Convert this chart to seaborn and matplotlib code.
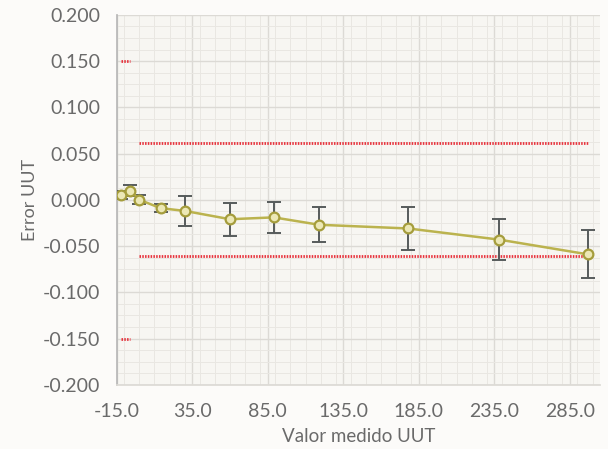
import numpy as np
import pandas as pd
import matplotlib
matplotlib.use("Agg")
import matplotlib.pyplot as plt
from matplotlib.ticker import MultipleLocator, FormatStrFormatter
import seaborn as sns

# ==========================
# Data
# ==========================

valor_medido = [-12, -6, 0, 14, 30, 60, 89, 119, 178, 238, 297]
error_uut = [0.005, 0.010, 0.000, -0.009, -0.012, -0.021, -0.019, -0.027, -0.031, -0.043, -0.059]
incertidumbre = [0.004, 0.006, 0.005, 0.004, 0.016, 0.018, 0.017, 0.019, 0.023, 0.022, 0.026]

limite_x = [0, 297]
limite_sup = [0.061, 0.061]
limite_inf = [-0.061, -0.061]

marca_x = [-12, -6]
marca_sup = [0.150, 0.150]
marca_inf = [-0.150, -0.150]

x_ticks = [-15, 35, 85, 135, 185, 235, 285]

df = pd.DataFrame({"x": valor_medido, "y": error_uut, "u": incertidumbre})

# ==========================
# Style
# ==========================

sns.set_theme(style="white")
plt.rcParams["font.family"] = ["Lato", "DejaVu Sans"]
txt = "#6a6a6a"

fig = plt.figure(figsize=(6.08, 4.49), dpi=100, facecolor="#fcfbf9")
ax = fig.add_axes([0.192, 0.143, 0.795, 0.824])
ax.set_facecolor("#f7f6f2")

# ==========================
# Plot
# ==========================

red = "#e8323c"
for xs, ys in [(limite_x, limite_sup), (limite_x, limite_inf),
               (marca_x, marca_sup), (marca_x, marca_inf)]:
    sns.lineplot(x=xs, y=ys, ax=ax, color=red, linewidth=2.0,
                 linestyle=(0, (0.55, 0.45)), zorder=3)

ax.errorbar(df["x"], df["y"], yerr=df["u"], fmt="none", ecolor="#565b5b",
            elinewidth=1.4, capsize=5, capthick=1.4, zorder=4)

sns.lineplot(data=df, x="x", y="y", ax=ax, color="#bbb34e", linewidth=1.8,
             marker="o", markersize=7, markerfacecolor="#ece8b6",
             markeredgecolor="#a59d3c", markeredgewidth=1.6, zorder=5)

# ==========================
# Axes
# ==========================

ax.set_xlim(-15, 305)
ax.set_ylim(-0.2, 0.2)
ax.set_xticks(x_ticks)
ax.xaxis.set_major_formatter(FormatStrFormatter("%.1f"))
ax.yaxis.set_major_locator(MultipleLocator(0.05))
ax.yaxis.set_major_formatter(FormatStrFormatter("%.3f"))
ax.xaxis.set_minor_locator(MultipleLocator(10))
ax.yaxis.set_minor_locator(MultipleLocator(0.0125))

ax.grid(which="major", color="#dcdad5", linewidth=1.0)
ax.grid(which="minor", color="#e9e7e2", linewidth=0.7)
ax.set_axisbelow(True)

for s in ["top", "right"]:
    ax.spines[s].set_visible(False)
ax.spines["left"].set_color("#b8b8b8")
ax.spines["bottom"].set_color("#dcdad5")

ax.tick_params(axis="both", which="both", length=0, labelsize=14,
               labelcolor=txt)
ax.tick_params(axis="y", pad=12)
ax.tick_params(axis="x", pad=13)
ax.set_xlabel("Valor medido UUT", fontsize=13.5, color=txt, labelpad=6)
ax.set_ylabel("Error UUT", fontsize=13, color=txt, labelpad=3)

plt.savefig("out.png", dpi=100, facecolor=fig.get_facecolor())
